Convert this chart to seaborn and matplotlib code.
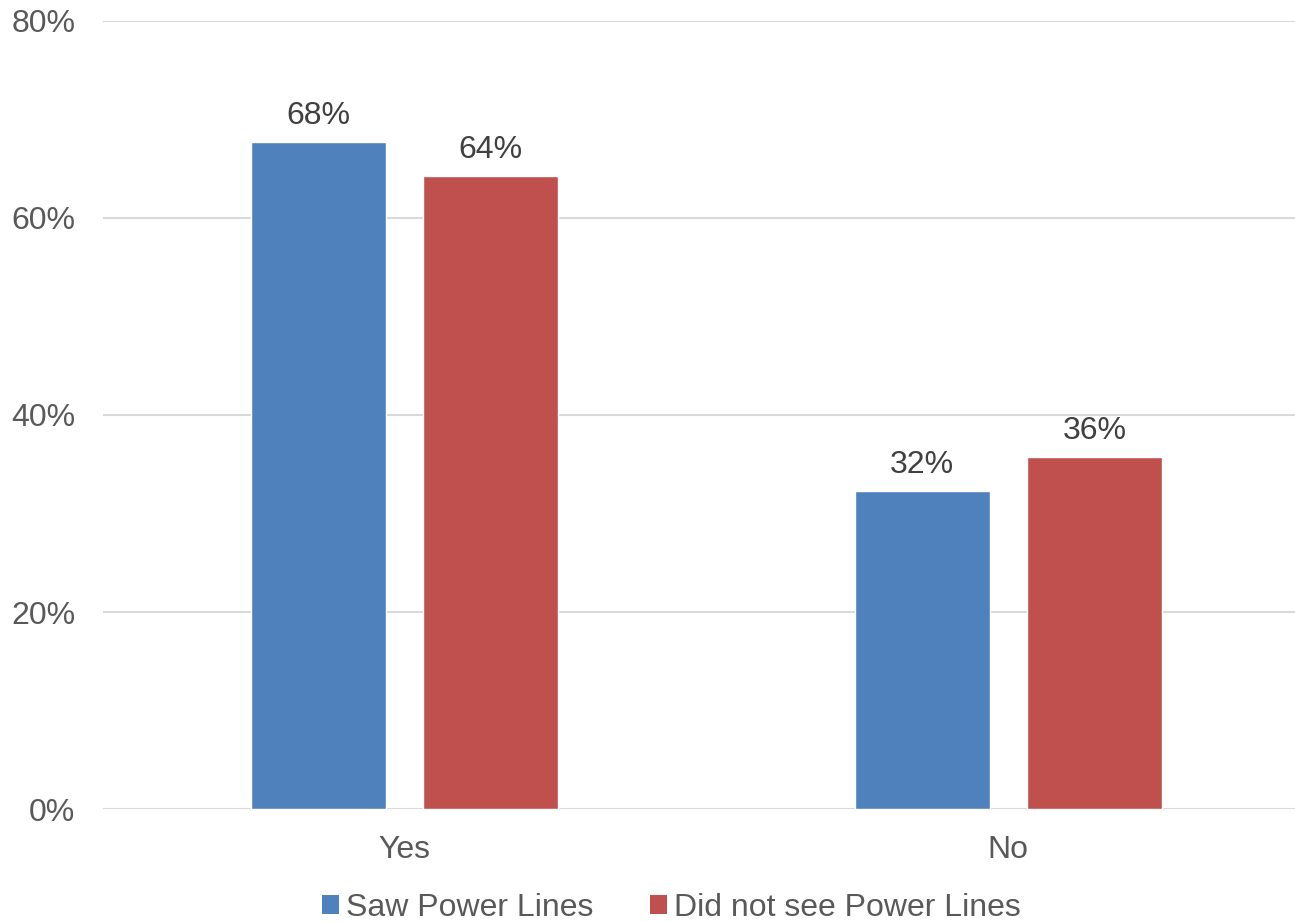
import matplotlib
matplotlib.use("Agg")
import matplotlib.pyplot as plt
from matplotlib import font_manager
from matplotlib.patches import Patch
import seaborn as sns
import pandas as pd

categories = ["Yes", "No"]
series_names = ["Saw Power Lines", "Did not see Power Lines"]
saw_values = [67.7, 32.3]
not_saw_values = [64.3, 35.7]
y_ticks = [0, 20, 40, 60, 80]
colors = ["#4F81BD", "#C0504D"]

sns.set_theme(style="white")
names = {f.name for f in font_manager.fontManager.ttflist}
base_font = "Liberation Sans" if "Liberation Sans" in names else "DejaVu Sans"
plt.rcParams["font.family"] = [base_font, "DejaVu Sans"]

df = pd.DataFrame({
    "category": categories * 2,
    "series": [series_names[0]] * 2 + [series_names[1]] * 2,
    "value": saw_values + not_saw_values,
})

W, H = 1295, 922
fig = plt.figure(figsize=(W / 100, H / 100), dpi=100)
ax = fig.add_axes([103 / W, (H - 809) / H, (1295 - 103) / W, (809 - 21) / H])

sns.barplot(data=df, x="category", y="value", hue="series", order=categories,
            hue_order=series_names, palette=colors, width=0.57, gap=0.215,
            saturation=1, ax=ax, legend=False, errorbar=None)

ax.set_xlim(-0.5, 1.475)
ax.set_ylim(0, 80)
ax.set_yticks(y_ticks)
ax.set_yticklabels([f"{t}%" for t in y_ticks])
ax.yaxis.grid(True, color="#D9D9D9", linewidth=1.5)
ax.set_axisbelow(True)
for s in ax.spines.values():
    s.set_visible(False)
ax.set_xlabel("")
ax.set_ylabel("")
ax.tick_params(axis="y", length=0, pad=20, labelsize=23, labelcolor="#595959")
ax.tick_params(axis="x", length=0, pad=19, labelsize=23, labelcolor="#595959")

for cont in ax.containers:
    ax.bar_label(cont, labels=[f"{v:.0f}%" for v in cont.datavalues],
                 padding=8, fontsize=23, color="#404040")

handles = [Patch(facecolor=c, edgecolor="none") for c in colors]
leg = fig.legend(handles, series_names, loc="center", bbox_to_anchor=(671.5 / W, 14 / H),
                 ncol=2, frameon=False, handlelength=0.55, handleheight=0.55,
                 handletextpad=0.22, columnspacing=1.75,
                 prop={"family": base_font, "size": 23})
for t in leg.get_texts():
    t.set_color("#595959")

fig.savefig("out.png", dpi=100)
